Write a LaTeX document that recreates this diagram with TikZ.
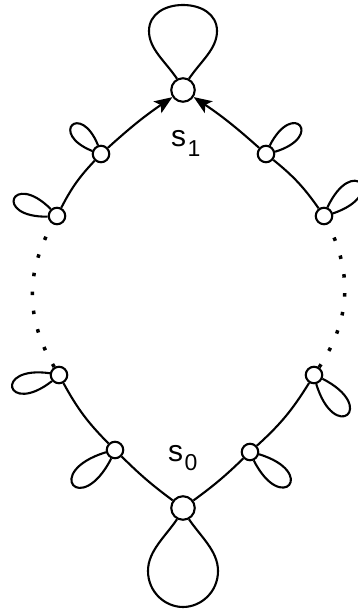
\documentclass[tikz,border=0pt]{standalone}
\usepackage{fontspec}
\setmainfont{Liberation Sans}
\usetikzlibrary{arrows.meta}
\tikzset{
  st/.style={circle, draw, line width=2.1pt, minimum size=16.5pt, inner sep=0pt, fill=white},
  big/.style={st, minimum size=23.5pt},
  ln/.style={line width=2.1pt},
  dotline/.style={line width=3.5pt, dash pattern=on 3.5pt off 15.5pt},
  arr/.style={ln, -{Stealth[length=18pt, width=14pt, inset=4pt]}},
  lab/.style={anchor=base west, inner sep=0pt}
}
\newcommand\petal[3]{\draw[ln] (#1.{#2+26}) .. controls +({#2+23}:#3) and +({#2-23}:#3) .. (#1.{#2-26});}
\begin{document}
\begin{tikzpicture}[x=1pt,y=1pt]
\useasboundingbox (0,0) rectangle (358,611);
\clip (0,0) rectangle (358,611);
% nodes
\node[big] (s1) at (183,521) {};
\node[big] (s0) at (183,103) {};
\node[st] (L1) at (101,457) {};
\node[st] (L2) at (57,395) {};
\node[st] (L3) at (59,236) {};
\node[st] (L4) at (115,161) {};
\node[st] (R1) at (266,457) {};
\node[st] (R2) at (324,395) {};
\node[st] (R3) at (314,236) {};
\node[st] (R4) at (250,159) {};
% big loops
\draw[ln] (s1.118) .. controls (165,550) and (149,562) .. (149,580)
  .. controls (149,597) and (165,606) .. (183,606)
  .. controls (201,606) and (217,597) .. (217,580)
  .. controls (217,562) and (201,550) .. (s1.62);
\draw[ln] (s0.242) .. controls (165,74) and (148,60) .. (148,40)
  .. controls (148,19) and (165,4) .. (183,4)
  .. controls (201,4) and (218,19) .. (218,40)
  .. controls (218,60) and (201,74) .. (s0.298);
% petals
\petal{L1}{135}{47}
\petal{L2}{158}{55}
\petal{L3}{195}{58}
\petal{L4}{220}{67}
\petal{R1}{40}{52}
\petal{R2}{42}{59}
\petal{R3}{-50}{63}
\petal{R4}{-40}{62}
% edges
\draw[ln] (s0) to[bend left=4] (L4);
\draw[ln] (L4) to[bend left=8] (L3);
\draw[dotline] (L3) to[bend left=30] (L2);
\draw[ln] (L2) to[bend left=8] (L1);
\draw[arr] (L1) to[bend left=4] (s1);
\draw[ln] (s0) to[bend right=4] (R4);
\draw[ln] (R4) to[bend right=8] (R3);
\draw[dotline] (R3) to[bend right=30] (R2);
\draw[ln] (R2) to[bend right=8] (R1);
\draw[arr] (R1) to[bend right=4] (s1);
% labels
\node[lab] (t1) at (171,464) {\fontsize{30}{30}\selectfont s\kern1.5pt\raisebox{-10pt}{\fontsize{23}{23}\selectfont 1}};
\node[lab] (t0) at (168,149) {\fontsize{30}{30}\selectfont s\kern1.5pt\raisebox{-9pt}{\fontsize{23}{23}\selectfont 0}};
\end{tikzpicture}
\end{document}
